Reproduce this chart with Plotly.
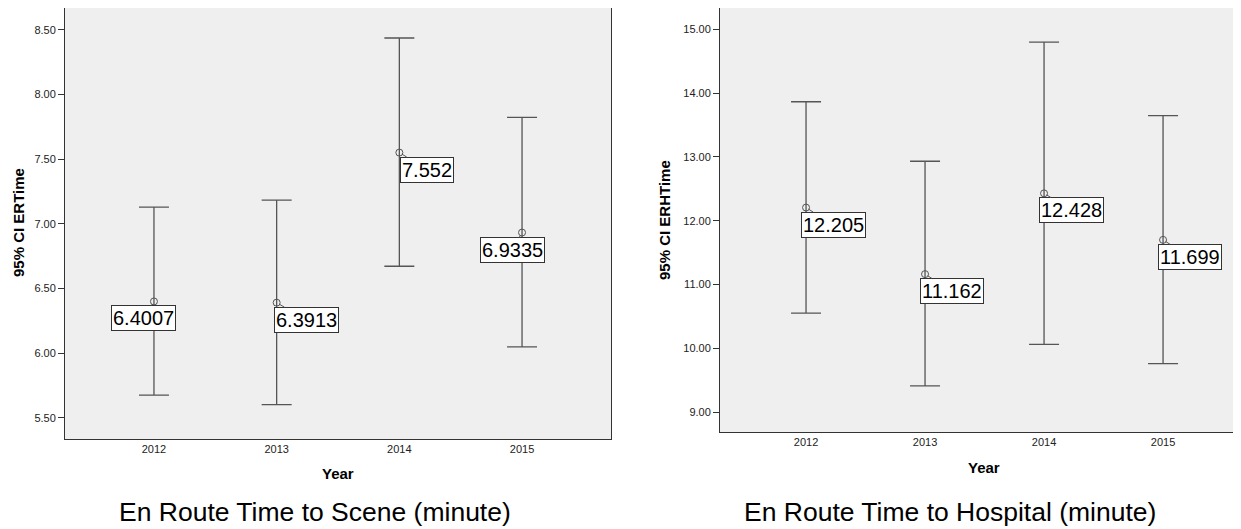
import plotly.graph_objects as go

# ---- data ----
years = ["2012", "2013", "2014", "2015"]

scene_mean = [6.4007, 6.3913, 7.552, 6.9335]
scene_lower = [5.677, 5.603, 6.673, 6.049]
scene_upper = [7.130, 7.184, 8.438, 7.824]
scene_labels = ["6.4007", "6.3913", "7.552", "6.9335"]

hosp_mean = [12.205, 11.162, 12.428, 11.699]
hosp_lower = [10.55, 9.41, 10.06, 9.76]
hosp_upper = [13.864, 12.931, 14.797, 13.645]
hosp_labels = ["12.205", "11.162", "12.428", "11.699"]

scene_title = "En Route Time to Scene (minute)"
hosp_title = "En Route Time to Hospital (minute)"

# ---- styles / geometry (page body has an 8px margin) ----
OFF = 8
W, H = 1241 - OFF, 529 - OFF
BAR = "#555555"
AXIS = "#333333"
FONT = "Liberation Sans, Arial, sans-serif"


def fx(px):
    return (px - OFF) / W


def fy(py):
    return 1 - (py - OFF) / H


fig = go.Figure()


def add_panel(xa, ya, mean, lo, hi):
    fig.add_trace(go.Scatter(
        x=list(range(len(years))), y=mean, xaxis=xa, yaxis=ya, mode="markers",
        marker=dict(symbol="circle-open", size=7, color=BAR, line=dict(width=1, color=BAR)),
        error_y=dict(type="data", symmetric=False,
                     array=[h - m for h, m in zip(hi, mean)],
                     arrayminus=[m - l for m, l in zip(mean, lo)],
                     color=BAR, thickness=1.3, width=15),
        showlegend=False, hoverinfo="skip"))


add_panel("x", "y", scene_mean, scene_lower, scene_upper)
add_panel("x2", "y2", hosp_mean, hosp_lower, hosp_upper)

axis_common = dict(showgrid=False, zeroline=False, showline=True, linecolor=AXIS, linewidth=1,
                   tickfont=dict(family=FONT, size=11, color="#222"))
xtick = dict(tickmode="array", tickvals=list(range(len(years))), ticktext=years)

fig.update_layout(
    width=W, height=H, margin=dict(l=0, r=0, t=0, b=0),
    paper_bgcolor="white", plot_bgcolor="#efefef",
    xaxis=dict(domain=[fx(65), fx(611)], range=[-0.725, 3.725],
               ticks="", mirror=True, anchor="y", **xtick, **axis_common),
    yaxis=dict(domain=[fy(439), fy(8)], range=[5.337, 8.67], dtick=0.5, tick0=5.5,
               tickformat=".2f", ticks="outside", ticklen=6, tickcolor=AXIS, mirror=True,
               anchor="x", **axis_common),
    xaxis2=dict(domain=[fx(720), 1.0], range=[-0.723, 3.655],
                ticks="", mirror=True, anchor="y2", **xtick, **axis_common),
    yaxis2=dict(domain=[fy(432), fy(8)], range=[8.6875, 15.333], dtick=1, tick0=9,
                tickformat=".2f", ticks="outside", ticklen=6, tickcolor=AXIS, mirror=False,
                anchor="x2", **axis_common),
)

ann = []
# value labels
left_off = [(-10, 16.5), (29.5, 17), (28, 17), (-10, 17.5)]
right_off = [(27, 17), (27, 17), (27.6, 16.7), (27, 17)]
for xa, ya, mean, labels, offs in [("x", "y", scene_mean, scene_labels, left_off),
                                     ("x2", "y2", hosp_mean, hosp_labels, right_off)]:
    for i, (m, lab, (dx, dy)) in enumerate(zip(mean, labels, offs)):
        ann.append(dict(x=i, y=m, xref=xa, yref=ya, text=lab, showarrow=True,
                        ax=dx, ay=dy, arrowhead=0, arrowwidth=1, arrowcolor=BAR, standoff=3,
                        font=dict(family=FONT, size=20, color="black"),
                        bgcolor="white", bordercolor=AXIS, borderwidth=1, borderpad=1))


def txt(x, y, s, size, bold=False, angle=0):
    return dict(x=fx(x), y=fy(y), xref="paper", yref="paper", text=(f"<b>{s}</b>" if bold else s),
                showarrow=False, textangle=angle, xanchor="center", yanchor="middle",
                font=dict(family=FONT, size=size, color="black"))


ann.append(txt(18, 223, "95% CI ERTime", 15, bold=True, angle=-90))
ann.append(txt(665, 220, "95% CI ERHTime", 15, bold=True, angle=-90))
ann.append(txt(338, 473, "Year", 15, bold=True))
ann.append(txt(984, 467, "Year", 15, bold=True))
ann.append(txt(315, 512, scene_title, 26.5))
ann.append(txt(950, 512, hosp_title, 26.5))

fig.update_layout(annotations=ann)
fig.write_html("out.html")
